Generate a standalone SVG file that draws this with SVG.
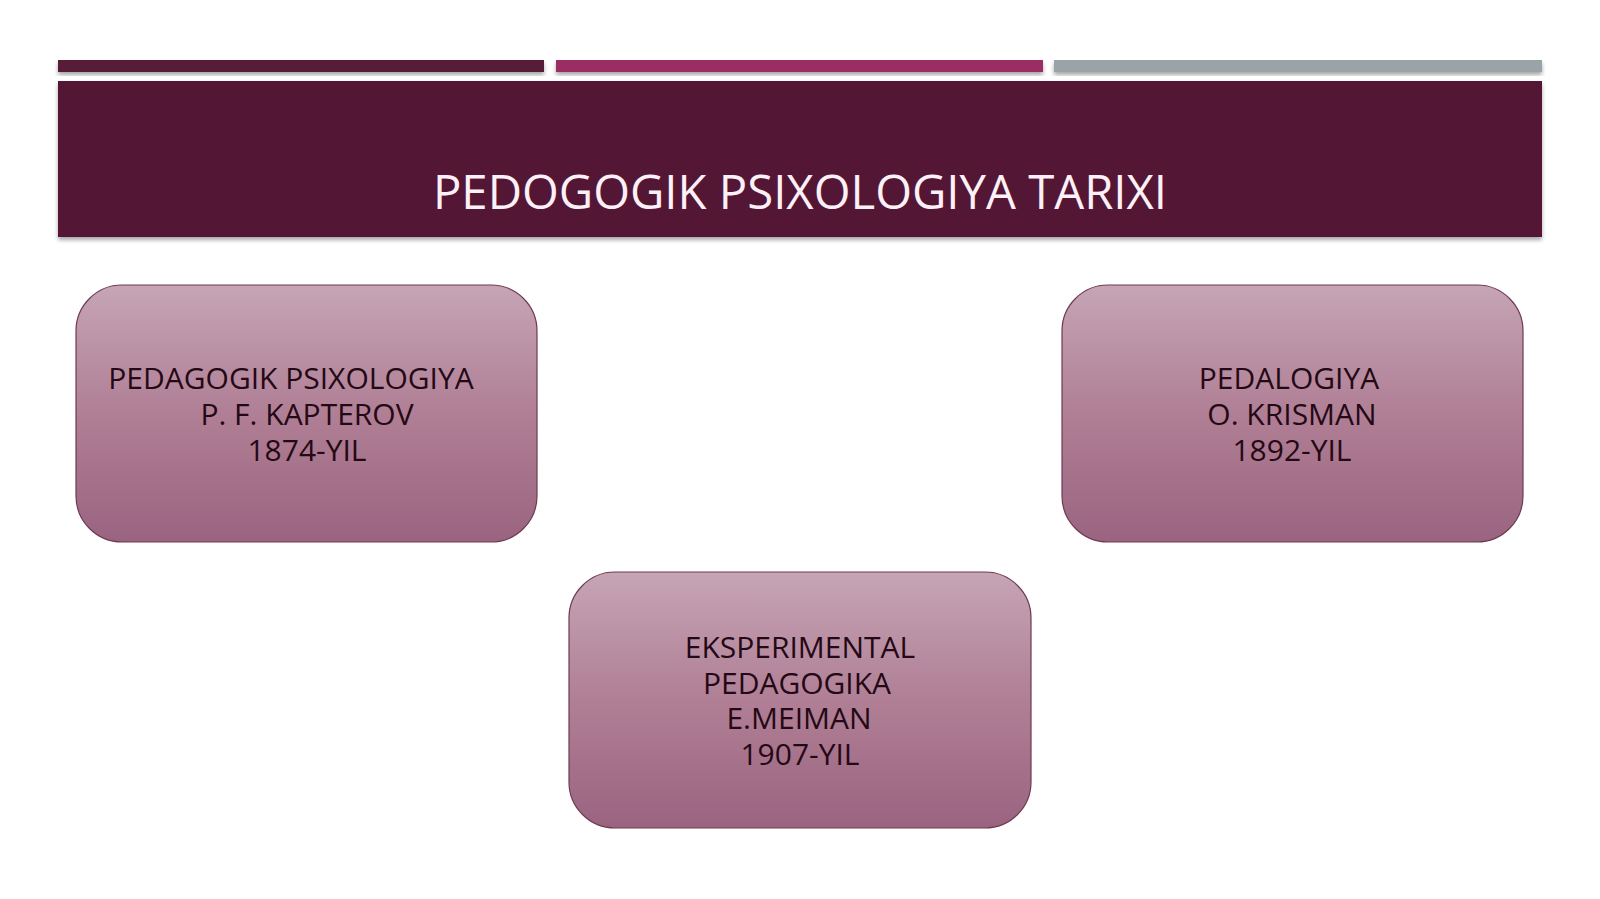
<svg xmlns="http://www.w3.org/2000/svg" width="1600" height="899" viewBox="0 0 1600 899">
  <defs>
    <linearGradient id="boxGrad" x1="0" y1="0" x2="0" y2="1">
      <stop offset="0" stop-color="#c6a5b5"/>
      <stop offset="0.5" stop-color="#b07f95"/>
      <stop offset="1" stop-color="#9a6480"/>
    </linearGradient>
    <filter id="shadow" x="-5%" y="-20%" width="110%" height="150%">
      <feGaussianBlur in="SourceAlpha" stdDeviation="2"/>
      <feOffset dx="0" dy="3" result="b"/>
      <feComponentTransfer><feFuncA type="linear" slope="0.35"/></feComponentTransfer>
      <feMerge><feMergeNode/><feMergeNode in="SourceGraphic"/></feMerge>
    </filter>
    <style>
      .box { fill: url(#boxGrad); stroke: #6e3a52; stroke-width: 1.2; }
      .lbl { font-family: "Open Sans", "Noto Sans", sans-serif; font-size: 30px; fill: #240915; text-anchor: middle; }
      .title { font-family: "Open Sans", "Noto Sans", sans-serif; font-size: 47.3px; fill: #fdf0f6; text-anchor: middle; }
    </style>
  </defs>
  <rect x="0" y="0" width="1600" height="899" fill="#ffffff"/>

  <g id="header">
    <rect x="58" y="60" width="486" height="12" fill="#561a37" filter="url(#shadow)"/>
    <rect x="556" y="60" width="487" height="12" fill="#9a2f62" filter="url(#shadow)"/>
    <rect x="1054" y="60" width="488" height="12" fill="#9aa3a8" filter="url(#shadow)"/>
    <rect x="58" y="81" width="1484" height="156" fill="#531634" filter="url(#shadow)"/>
    <text class="title" x="800" y="209">PEDOGOGIK PSIXOLOGIYA TARIXI</text>
  </g>

  <g id="connectors"></g>

  <g id="node-kapterov">
    <rect class="box" x="76" y="285" width="461" height="257" rx="46" ry="46"/>
    <text class="lbl" x="291" y="389">PEDAGOGIK PSIXOLOGIYA</text>
    <text class="lbl" x="307" y="425">P. F. KAPTEROV</text>
    <text class="lbl" x="307" y="461">1874-YIL</text>
  </g>

  <g id="node-krisman">
    <rect class="box" x="1062" y="285" width="461" height="257" rx="46" ry="46"/>
    <text class="lbl" x="1289" y="389">PEDALOGIYA</text>
    <text class="lbl" x="1292" y="425">O. KRISMAN</text>
    <text class="lbl" x="1292" y="461">1892-YIL</text>
  </g>

  <g id="node-meiman">
    <rect class="box" x="569" y="572" width="462" height="256" rx="46" ry="46"/>
    <text class="lbl" x="800" y="658">EKSPERIMENTAL</text>
    <text class="lbl" x="797" y="694">PEDAGOGIKA</text>
    <text class="lbl" x="799" y="729">E.MEIMAN</text>
    <text class="lbl" x="800" y="765">1907-YIL</text>
  </g>
</svg>
